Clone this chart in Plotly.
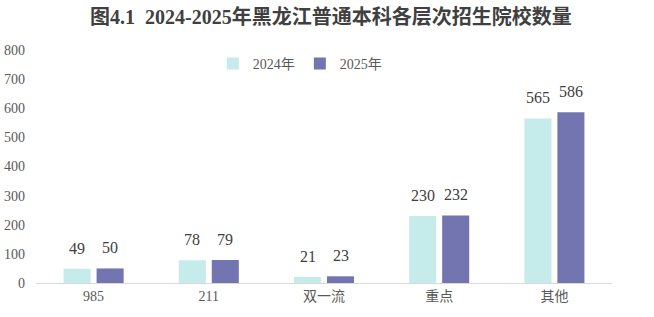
import plotly.graph_objects as go

categories = ["985", "211", "双一流", "重点", "其他"]
values_2024 = [49, 78, 21, 230, 565]
values_2025 = [50, 79, 23, 232, 586]
series_names = ["2024年", "2025年"]
y_ticks = [0, 100, 200, 300, 400, 500, 600, 700, 800]

FONT = "'Liberation Serif', 'Times New Roman', 'DejaVu Serif', 'Noto Sans CJK SC', serif"
colors = ["#C5EBEA", "#7375B0"]

fig = go.Figure()
for name, vals, col in zip(series_names, [values_2024, values_2025], colors):
    fig.add_trace(go.Bar(
        name=name, x=categories, y=vals, marker_color=col,
        marker_line_width=0,
    ))

# value labels above bars (x given as category index)
slot = 33
for i, vals in enumerate([values_2024, values_2025]):
    shift = -slot / 2 if i == 0 else slot / 2
    for idx, v in enumerate(vals):
        fig.add_annotation(
            x=idx, y=v, xref="x", yref="y", text=str(v), showarrow=False,
            xshift=shift, yshift=10, yanchor="bottom",
            font=dict(family=FONT, size=16, color="#404040"),
        )

fig.update_layout(
    width=654, height=317,
    margin=dict(l=36, r=42, t=50, b=34),
    paper_bgcolor="white", plot_bgcolor="white",
    barmode="group", bargap=0.427, bargroupgap=0.18,
    title=dict(
        text="<b>图4.1  2024-2025年黑龙江普通本科各层次招生院校数量</b>",
        x=0.506, xanchor="center", y=0.945, yanchor="middle",
        font=dict(family=FONT, size=20, color="#404040"),
    ),
    legend=dict(
        orientation="h", x=0.307, xanchor="left", y=0.94, yanchor="middle",
        font=dict(family=FONT, size=14, color="#595959"),
        itemwidth=30, tracegroupgap=0, bgcolor="rgba(0,0,0,0)",
    ),
    font=dict(family=FONT),
    xaxis=dict(
        type="category", range=[-0.5, 4.5], automargin=False,
        showline=True, linecolor="#D9D9D9", linewidth=1,
        ticks="", showgrid=False,
        tickfont=dict(family=FONT, size=14, color="#595959"),
    ),
    yaxis=dict(
        range=[0, 800], tickvals=y_ticks, showgrid=False, zeroline=False,
        showline=False, ticks="", ticklabelstandoff=10, automargin=False,
        tickfont=dict(family=FONT, size=14, color="#595959"),
    ),
)

fig.write_html("out.html")
